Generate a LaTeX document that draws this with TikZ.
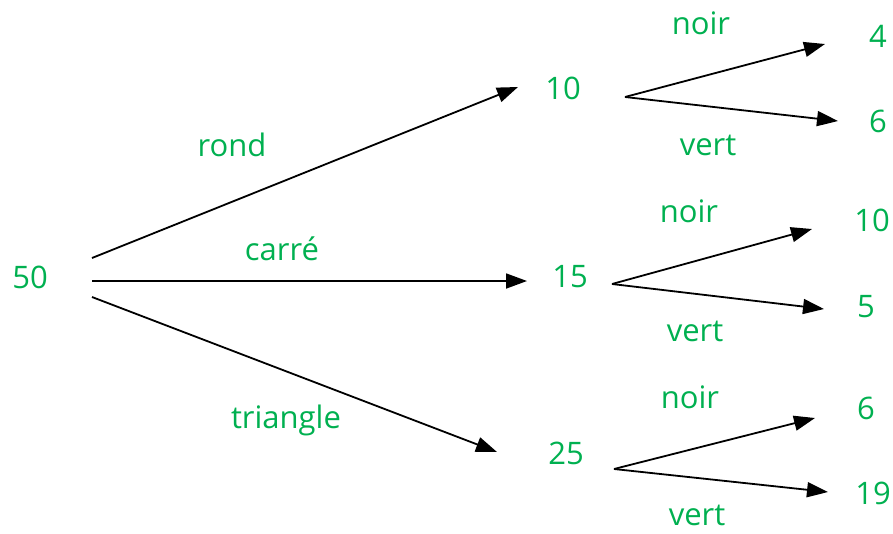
\documentclass[tikz,border=0pt]{standalone}
\usepackage{fontspec}
\setmainfont{Open Sans}
\usetikzlibrary{arrows.meta}
\definecolor{lbl}{RGB}{0,176,80}
\begin{document}
\begin{tikzpicture}[x=1pt,y=-1pt,
  lab/.style={text=lbl,font=\fontsize{31}{36}\selectfont,inner sep=0pt},
  arr/.style={line width=1.8pt,-{Triangle[length=21pt,width=15pt]}}]
\useasboundingbox (0,0) rectangle (893,533);
% nodes
\node[lab] (n50) at (30,277) {50};
\node[lab] (n10) at (563,88) {10};
\node[lab] (n15) at (570,277) {15};
\node[lab] (n25) at (566,453) {25};
\node[lab] (a4) at (878,36) {4};
\node[lab] (a6) at (878,121) {6};
\node[lab] (b10) at (872,220) {10};
\node[lab] (b5) at (866,307) {5};
\node[lab] (c6) at (866,408) {6};
\node[lab] (c19) at (873,493) {19};
% edge labels
\node[lab] (lrond) at (232,145) {rond};
\node[lab] (lcarre) at (282,249) {carré};
\node[lab] (ltri) at (286,420) {triangle};
\node[lab] (ln1) at (701,23) {noir};
\node[lab] (lv1) at (708,145) {vert};
\node[lab] (ln2) at (689,211) {noir};
\node[lab] (lv2) at (695,331) {vert};
\node[lab] (ln3) at (690,397) {noir};
\node[lab] (lv3) at (697,515) {vert};
% anchor points
\coordinate (s1) at (92,258);
\coordinate (s2) at (92,281);
\coordinate (s3) at (92,297);
\coordinate (e1) at (518,87);
\coordinate (e2) at (527,281);
\coordinate (e3) at (497,452);
\coordinate (o10) at (625,97);
\coordinate (t4) at (825,44);
\coordinate (t6) at (838,121);
\coordinate (o15) at (612,284);
\coordinate (t10) at (812,229);
\coordinate (t5) at (824,309);
\coordinate (o25) at (614,469);
\coordinate (t6b) at (815,418);
\coordinate (t19) at (828,492);
% connectors
\draw[arr] (s1) -- (e1);
\draw[arr] (s2) -- (e2);
\draw[arr] (s3) -- (e3);
\draw[arr] (o10) -- (t4);
\draw[arr] (o10) -- (t6);
\draw[arr] (o15) -- (t10);
\draw[arr] (o15) -- (t5);
\draw[arr] (o25) -- (t6b);
\draw[arr] (o25) -- (t19);
\end{tikzpicture}
\end{document}
